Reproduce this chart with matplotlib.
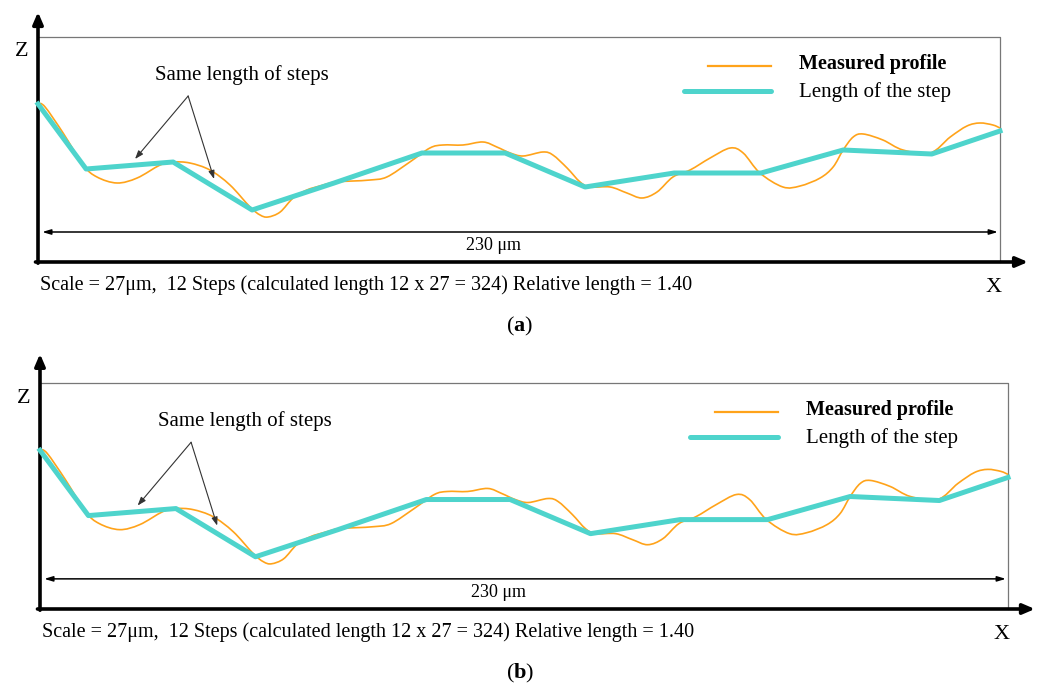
import matplotlib
matplotlib.use("Agg")
import matplotlib.pyplot as plt
from matplotlib.path import Path
from matplotlib.patches import PathPatch

plt.rcParams['font.family'] = ['Liberation Serif', 'DejaVu Serif']
plt.rcParams['mathtext.fontset'] = 'custom'
plt.rcParams['mathtext.bf'] = 'Liberation Serif:bold'

# position along the profile (um) and height (arbitrary units above the x axis)
step_x = [0, 11.5, 32.3, 51.2, 70.8, 91.8, 111.7, 130.8, 152.1, 172.9, 192.5, 213.7, 230]
step_z = [158, 93, 100, 52, 79, 109, 109, 75, 89, 89, 112, 108, 131]

profile_x = [0, 1.7, 6.0, 10.8, 14.1, 18.9, 23.7, 29.2, 32.3, 36.3, 41.1, 45.9, 50.7, 53.1,
             55.0, 57.9, 61.0, 64.3, 67.4, 71.0, 75.3, 79.4, 83.4, 88.9, 93.7, 96.8, 101.6,
             106.4, 109.7, 112.9, 116.0, 120.7, 123.1, 126.5, 129.6, 132.0, 136.8, 140.8,
             144.4, 148.0, 151.8, 155.9, 160.7, 165.5, 168.6, 172.6, 178.1, 182.2, 187.0,
             190.1, 192.5, 194.9, 197.3, 202.0, 206.8, 213.3, 218.1, 222.1, 225.2, 228.3, 230]
profile_z = [159, 155, 129, 97, 85, 79, 84, 97, 100, 99, 92, 77, 55, 47,
             45, 50, 64, 72, 76, 80, 81, 82, 85, 100, 114, 117, 117,
             120, 115, 109, 106, 110, 107, 94, 80, 75, 75, 69,
             64, 70, 85, 92, 104, 114, 109, 89, 75, 76, 84,
             95, 112, 125, 128, 122, 112, 109, 125, 136, 139, 137, 134]

scale_um = 27
n_steps = 12
rel_length = 1.40
total_um = 230

ORANGE = '#FFA31A'
TEAL = '#4ED4CC'
FS = 14.5


def smooth_path(xs, zs):
    # cubic Bezier segments through the read points (Catmull-Rom tangents)
    verts = [(xs[0], zs[0])]
    codes = [Path.MOVETO]
    n = len(xs)
    for i in range(n - 1):
        x0, z0 = (xs[i - 1], zs[i - 1]) if i > 0 else (xs[i], zs[i])
        x1, z1 = xs[i], zs[i]
        x2, z2 = xs[i + 1], zs[i + 1]
        x3, z3 = (xs[i + 2], zs[i + 2]) if i + 2 < n else (x2, z2)
        verts += [(x1 + (x2 - x0) / 6, z1 + (z2 - z0) / 6),
                  (x2 - (x3 - x1) / 6, z2 - (z3 - z1) / 6),
                  (x2, z2)]
        codes += [Path.CURVE4] * 3
    return Path(verts, codes)


def draw_panel(fig, left, right, bottom, top, z_top_arrow, x_end_arrow, letter, letter_y):
    W, H = 1041, 686
    ax = fig.add_axes([left / W, 1 - bottom / H, (right - left) / W, (bottom - top) / H])
    ax.set_xlim(0, total_um)
    ax.set_ylim(0, 225)
    ax.axis('off')

    # thin frame (top and right)
    ax.plot([0, total_um, total_um], [225, 225, 0], color='#777777', lw=0.9, clip_on=False)

    # data
    ax.add_patch(PathPatch(smooth_path(profile_x, profile_z), facecolor='none',
                           edgecolor=ORANGE, lw=1.2, zorder=3, clip_on=False))
    ax.plot(step_x, step_z, color=TEAL, lw=3.6, clip_on=False, zorder=4)

    # axes arrows
    ax.annotate('', xy=(0, z_top_arrow), xytext=(0, -1.2), annotation_clip=False,
                arrowprops=dict(arrowstyle='-|>,head_length=0.7,head_width=0.3', lw=2.6, color='black', shrinkA=0, shrinkB=0))
    ax.annotate('', xy=(x_end_arrow, 0), xytext=(-0.6, 0), annotation_clip=False,
                arrowprops=dict(arrowstyle='-|>,head_length=0.7,head_width=0.3', lw=2.6, color='black', shrinkA=0, shrinkB=0))

    # dimension arrow
    ax.annotate('', xy=(1, 30), xytext=(total_um - 0.5, 30), annotation_clip=False,
                arrowprops=dict(arrowstyle='<|-|>,head_length=0.5,head_width=0.15', lw=1.1, color='black', shrinkA=0, shrinkB=0))
    ax.text(109, 16, f'{total_um} \u03bcm', ha='center', va='center', fontsize=13)

    # annotation arrows
    for tip in [(23.2, 103), (42.1, 83)]:
        ax.annotate('', xy=tip, xytext=(35.9, 166),
                    arrowprops=dict(arrowstyle='-|>,head_length=0.5,head_width=0.18', lw=0.8, color='#333333', shrinkA=0, shrinkB=0))
    ax.text(28, 187, 'Same length of steps', ha='left', va='center', fontsize=15)

    # legend
    ax.plot([160.3, 175.3], [196, 196], color=ORANGE, lw=1.6)
    ax.plot([154.5, 175.3], [171, 171], color=TEAL, lw=3.6, solid_capstyle='round')
    ax.text(182, 198, 'Measured profile', ha='left', va='center', fontsize=FS, fontweight='bold')
    ax.text(182, 170, 'Length of the step', ha='left', va='center', fontsize=FS + 0.5)

    ax.text(-3.8, 210, 'Z', ha='center', va='center', fontsize=16, clip_on=False)
    ax.text(228.4, -25, 'X', ha='center', va='center', fontsize=16, clip_on=False)
    ax.text(0.5, -23,
            f'Scale = {scale_um}\u03bcm,  {n_steps} Steps (calculated length {n_steps} x {scale_um} = {n_steps * scale_um}) '
            f'Relative length = {rel_length:.2f}',
            ha='left', va='center', fontsize=FS, clip_on=False)
    fig.text(520 / W, 1 - letter_y / H, '(' + r'$\mathbf{' + letter + '}$' + ')', ha='center', va='center', fontsize=16)


fig = plt.figure(figsize=(10.41, 6.86), dpi=100)
draw_panel(fig, 38, 1000, 262, 37, 250, 236.7, 'a', 326)
draw_panel(fig, 40, 1008, 609, 383, 254, 236.4, 'b', 673)
fig.savefig('out.png', dpi=100)
